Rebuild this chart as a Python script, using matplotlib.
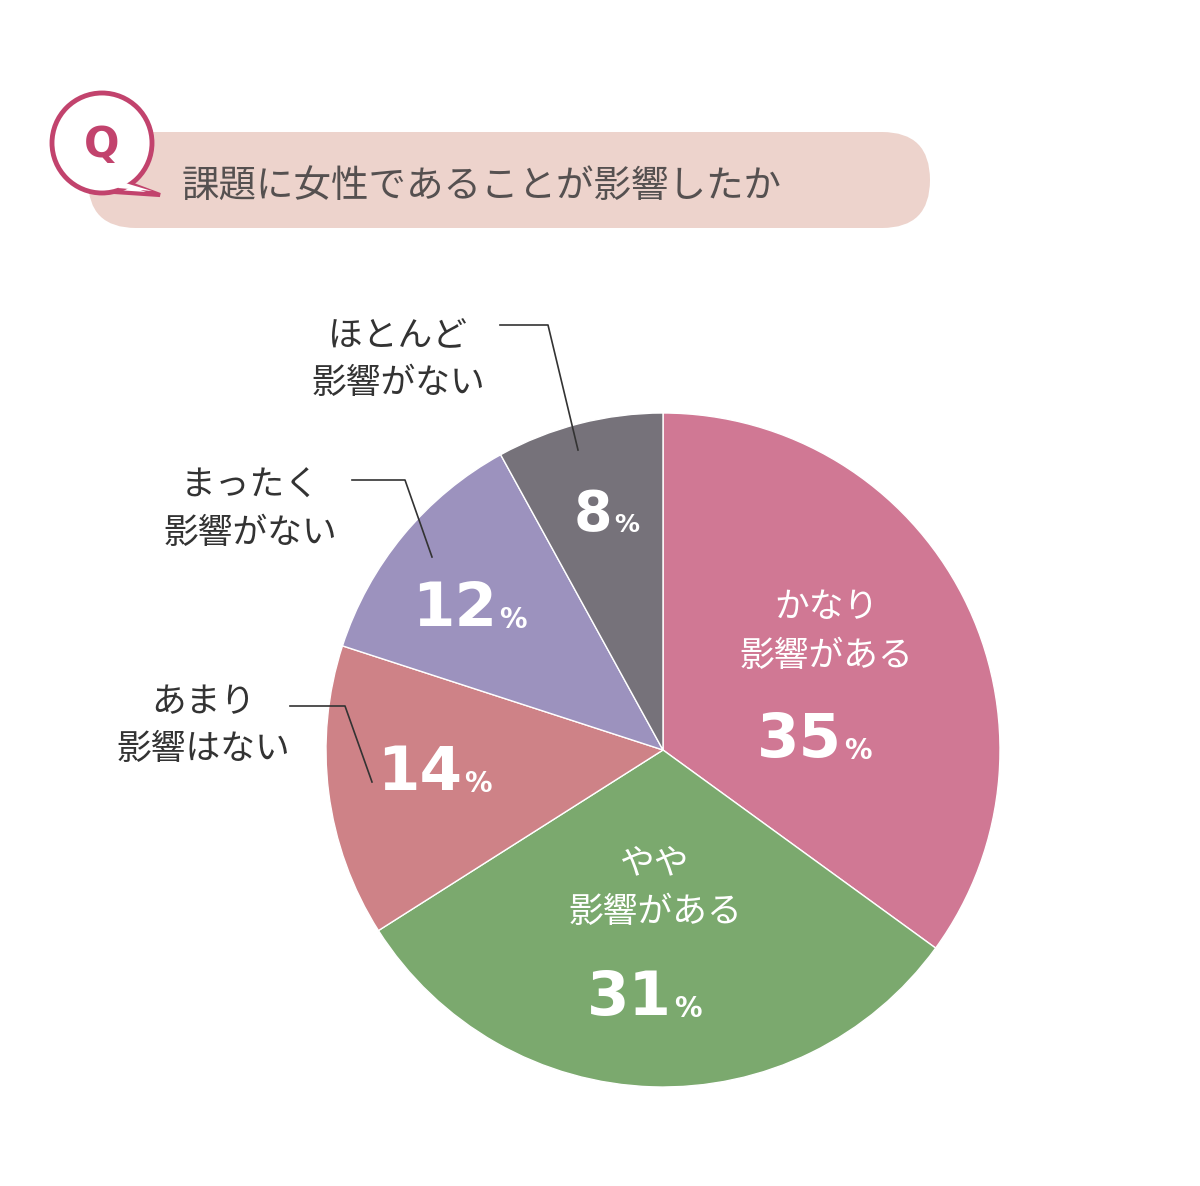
import matplotlib
matplotlib.use("Agg")
import matplotlib.pyplot as plt
from matplotlib.patches import FancyBboxPatch, Circle, Polygon

plt.rcParams['font.family'] = ['Noto Sans CJK JP', 'DejaVu Sans']

labels = ["かなり\n影響がある", "やや\n影響がある", "あまり\n影響はない", "まったく\n影響がない", "ほとんど\n影響がない"]
values = [35, 31, 14, 12, 8]
colors = ["#D07894", "#7BA96E", "#CE8287", "#9C92BE", "#76727A"]
title = "課題に女性であることが影響したか"

W, H = 1200, 1186
fig = plt.figure(figsize=(12, 11.86), dpi=100)
ax = fig.add_axes([0, 0, 1, 1])
ax.set_xlim(0, W); ax.set_ylim(0, H); ax.axis('off')
Y = lambda y: H - y

# header
ax.add_patch(FancyBboxPatch((88, Y(228)), 842, 96, boxstyle="round,pad=0,rounding_size=48",
                            fc="#EDD3CC", ec="none"))
ax.add_patch(Polygon([(120, Y(180)), (160, Y(195)), (115, Y(192))], closed=True, fc="white", ec="#C2436D", lw=3, zorder=3))
ax.add_patch(Circle((102, Y(143)), 50, fc="white", ec="#C2436D", lw=3.5, zorder=3))
ax.add_patch(Polygon([(122, Y(182)), (152, Y(191)), (118, Y(188))], closed=True, fc="white", ec="none", zorder=4))
ax.text(102, Y(145), "Q", color="#C2436D", fontsize=30, fontweight='bold', ha='center', va='center', zorder=5, family='DejaVu Sans')
ax.text(182, Y(186), title, color="#555050", fontsize=27, ha='left', va='center')

cx, cy, r = 663, Y(750), 337
ax.pie(values, colors=colors, startangle=90, counterclock=False, center=(cx, cy), radius=r,
       wedgeprops=dict(edgecolor='white', linewidth=1))
ax.set_xlim(0, W); ax.set_ylim(0, H); ax.set_aspect('equal')

def pct(x, y, v, size):
    ax.text(x, Y(y), f"{v}", color='white', fontsize=size, fontweight='bold', ha='right', va='center', family='DejaVu Sans')
    ax.text(x + 2, Y(y) - size * 0.25, "%", color='white', fontsize=size * 0.45, fontweight='bold', ha='left', va='center', family='DejaVu Sans')

# inside labels
ax.text(826, Y(632), labels[0], color='white', fontsize=25, ha='center', va='center', linespacing=1.5)
pct(842, 740, values[0], 44)
ax.text(655, Y(888), labels[1], color='white', fontsize=25, ha='center', va='center', linespacing=1.5)
pct(672, 998, values[1], 44)
pct(462, 773, values[2], 44)
pct(497, 609, values[3], 44)
pct(612, 515, values[4], 40)

# outside labels
ax.text(398, Y(360), labels[4], color='#333333', fontsize=25, ha='center', va='center', linespacing=1.45)
ax.text(250, Y(510), labels[3], color='#333333', fontsize=25, ha='center', va='center', linespacing=1.45)
ax.text(203, Y(726), labels[2], color='#333333', fontsize=25, ha='center', va='center', linespacing=1.45)
for pts in [[(500, 325), (548, 325), (578, 450)], [(352, 480), (405, 480), (432, 557)], [(290, 706), (345, 706), (372, 782)]]:
    ax.plot([p[0] for p in pts], [Y(p[1]) for p in pts], color='#333333', lw=1.2)

fig.savefig("out.png", dpi=100, facecolor='white')
